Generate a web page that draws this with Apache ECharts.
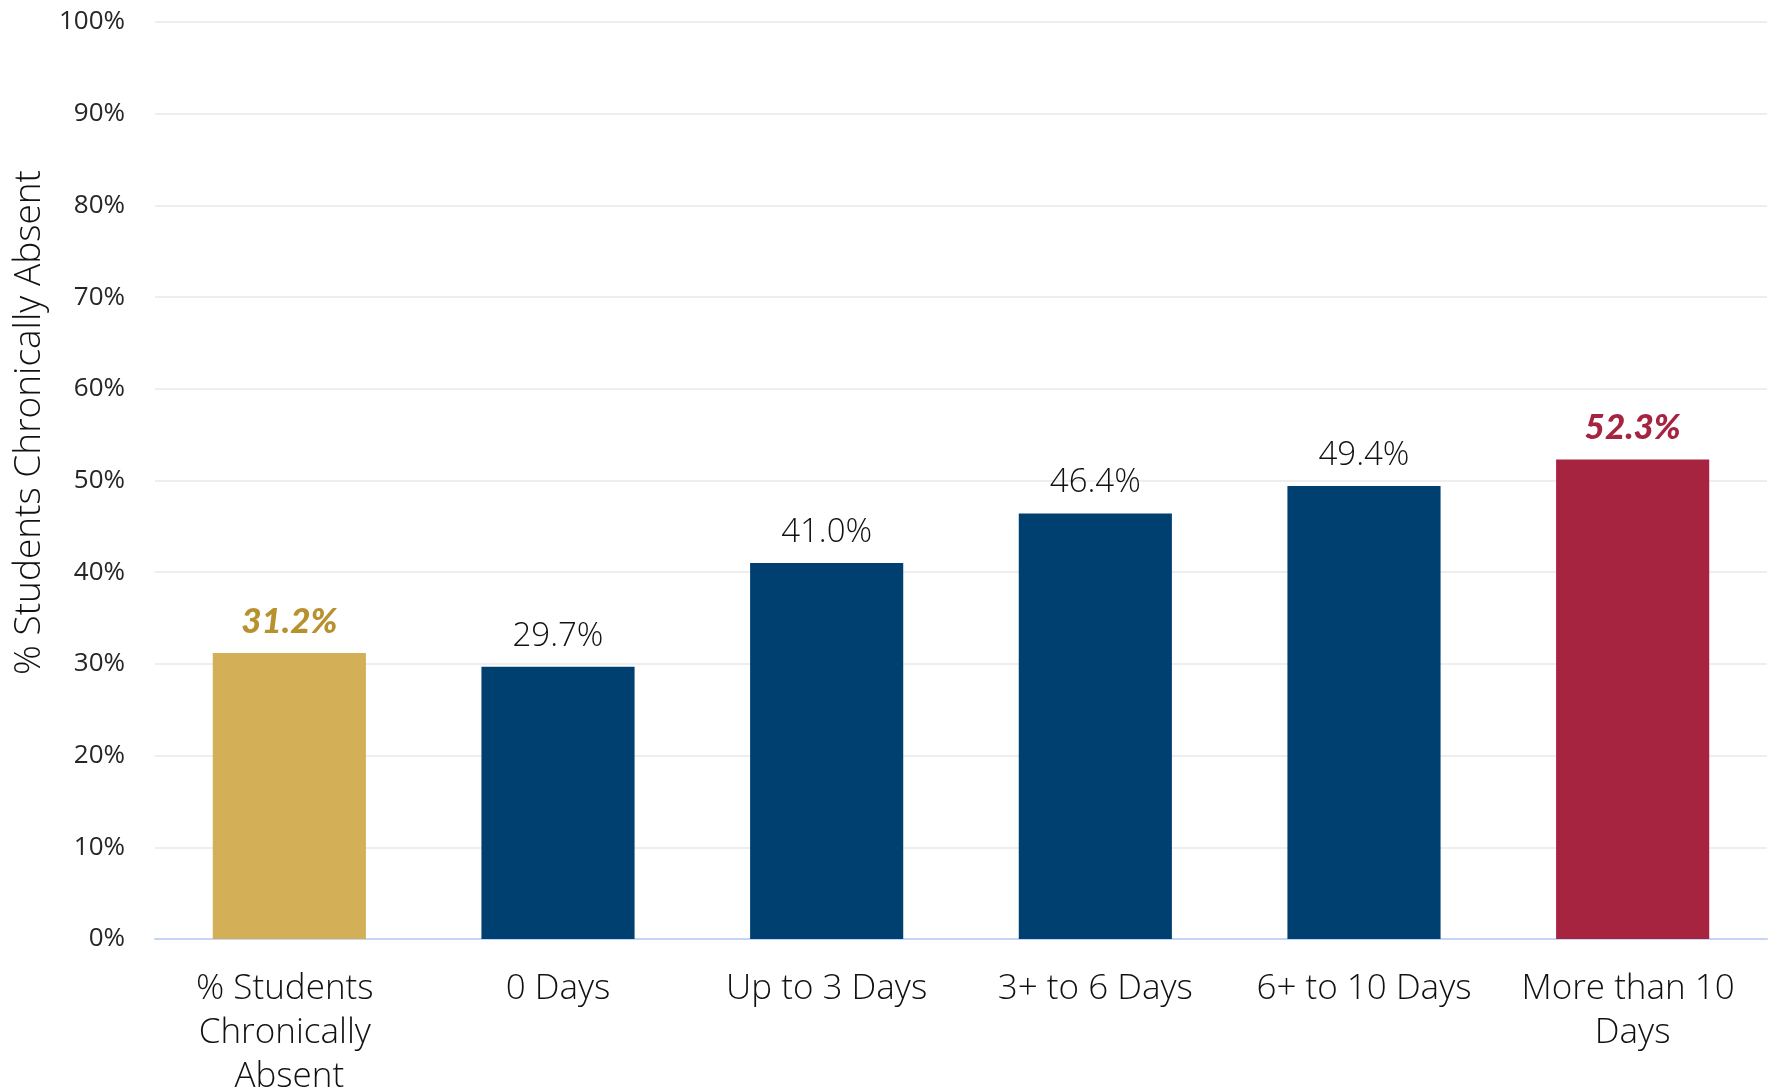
<!DOCTYPE html>
<html>
<head>
<meta charset="utf-8">
<script src="https://cdn.jsdelivr.net/npm/echarts@6/dist/echarts.min.js"></script>
<style>
  html, body { margin: 0; padding: 0; background: #fff; }
  #chart { width: 1773px; height: 1092px; }
</style>
</head>
<body>
<div id="chart"></div>
<script>
// 数据
var categories = ['% Students Chronically Absent', '0 Days', 'Up to 3 Days', '3+ to 6 Days', '6+ to 10 Days', 'More than 10 Days'];
var values = [31.2, 29.7, 41.0, 46.4, 49.4, 52.3];
var barColors = ['#D3B057', '#004070', '#004070', '#004070', '#004070', '#A6243F'];
var labelColors = ['#B8912F', '#111111', '#111111', '#111111', '#111111', '#A6243F'];
var highlight = [true, false, false, false, false, true];
var yTicks = [0, 10, 20, 30, 40, 50, 60, 70, 80, 90, 100];

var chartDom = document.getElementById('chart');
var myChart = echarts.init(chartDom);

var seriesData = values.map(function (v, i) {
  return {
    value: v,
    itemStyle: { color: barColors[i] },
    label: highlight[i]
      ? { color: labelColors[i], fontWeight: 900, fontStyle: 'italic', fontFamily: 'Lato', fontSize: 35 }
      : { color: labelColors[i] }
  };
});

var option = {
  animation: false,
  grid: { left: 155, right: 6, top: 22, bottom: 153, containLabel: false, outerBoundsMode: 'none' },
  xAxis: {
    type: 'category',
    data: categories,
    axisLine: { lineStyle: { color: '#C6D5F7', width: 2 } },
    axisTick: { show: false },
    axisLabel: {
      interval: 0,
      margin: 28,
      width: 240,
      overflow: 'break',
      lineHeight: 44,
      fontSize: 35,
      fontFamily: 'Open Sans',
      fontWeight: 300,
      color: '#111111'
    }
  },
  yAxis: {
    type: 'value',
    min: yTicks[0],
    max: yTicks[yTicks.length - 1],
    interval: 10,
    name: '% Students Chronically Absent',
    nameLocation: 'middle',
    nameGap: 107,
    nameTextStyle: {
      fontSize: 37,
      fontFamily: 'Open Sans',
      fontWeight: 300,
      color: '#111111',
      padding: [0, 0, 0, 116]
    },
    axisLabel: {
      formatter: '{value}%',
      margin: 30,
      fontSize: 26,
      fontFamily: 'Open Sans',
      fontWeight: 400,
      color: '#262626'
    },
    splitLine: { lineStyle: { color: '#E9E9E9', width: 1.5 } }
  },
  series: [{
    type: 'bar',
    data: seriesData,
    barWidth: '57%',
    label: {
      show: true,
      position: 'top',
      distance: 14,
      fontSize: 33,
      fontFamily: 'Open Sans',
      fontWeight: 300,
      formatter: function (p) { return p.value.toFixed(1) + '%'; }
    }
  }]
};

option && myChart.setOption(option);
</script>
</body>
</html>
